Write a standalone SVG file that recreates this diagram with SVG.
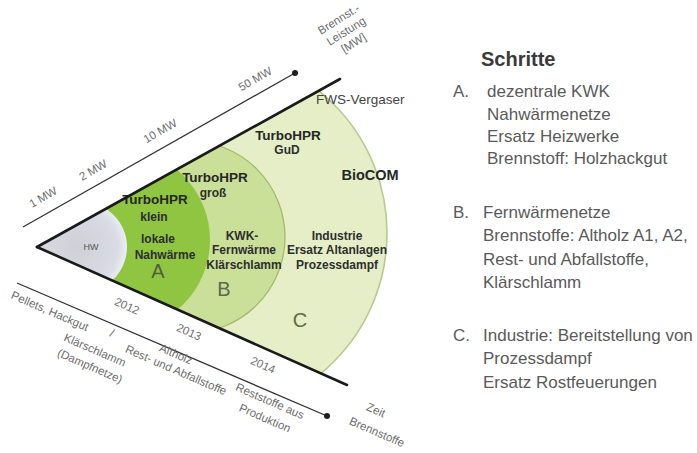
<svg xmlns="http://www.w3.org/2000/svg" width="697" height="453" viewBox="0 0 697 453">
  <defs>
    <clipPath id="wedge">
      <polygon points="37,247 420,35 420,417"/>
    </clipPath>
    <radialGradient id="grayFill" cx="0.45" cy="0.5" r="0.55">
      <stop offset="0" stop-color="#cfd0d6"/>
      <stop offset="0.8" stop-color="#d9dbe5"/>
      <stop offset="1" stop-color="#eceef4"/>
    </radialGradient>
    <marker id="dot" viewBox="0 0 10 10" refX="5" refY="5" markerWidth="6" markerHeight="6" markerUnits="userSpaceOnUse">
      <circle cx="5" cy="5" r="5" fill="#1e1e1e"/>
    </marker>
    <style>
      text { font-family: "Liberation Sans", Arial, sans-serif; }
      .lbl { font-size: 12px; font-weight: bold; fill: #2e2e2e; text-anchor: middle; }
      .hpr { font-size: 13.5px; font-weight: bold; fill: #262626; text-anchor: middle; }
      .reg { font-size: 20px; fill: #5b6a48; text-anchor: middle; }
      .ax { font-size: 11.5px; fill: #6e6e6e; text-anchor: middle; }
      .leg { font-size: 17px; fill: #5a5a5a; }
      .head { font-size: 20px; font-weight: bold; fill: #3a3a3a; }
      .edge { stroke: #1a1a1a; stroke-width: 2.6; fill: none; stroke-linecap: round; }
      .axis { stroke: #333; stroke-width: 1.3; fill: none; marker-end: url(#dot); }
    </style>
  </defs>

  <rect width="697" height="453" fill="#ffffff"/>

  <!-- stage areas, clipped to the wedge -->
  <g clip-path="url(#wedge)">
    <g id="node-C">
      <circle cx="205" cy="233" r="182" fill="#e5eec6" stroke="#b7ca8e" stroke-width="1.6"/>
    </g>
    <g id="node-B">
      <circle cx="189" cy="237" r="96" fill="#cadf98" stroke="#a2bb6c" stroke-width="1.3"/>
    </g>
    <g id="node-A">
      <circle cx="119" cy="240" r="91" fill="#8fc541"/>
    </g>
    <g id="node-HW">
      <circle cx="82" cy="247" r="45" fill="url(#grayFill)"/>
    </g>
  </g>

  <!-- stage texts -->
  <g id="labels-HW">
    <text x="91" y="250" style="font-size:9px; fill:#555; text-anchor:middle">HW</text>
  </g>
  <g id="labels-A">
    <text class="hpr" x="155" y="204">TurboHPR</text>
    <text class="lbl" x="154" y="221">klein</text>
    <text class="lbl" x="158" y="243">lokale</text>
    <text class="lbl" x="165" y="259">Nahwärme</text>
    <text class="reg" x="158" y="278" style="fill:#4f5f3a">A</text>
  </g>
  <g id="labels-B">
    <text class="hpr" x="215" y="182">TurboHPR</text>
    <text class="lbl" x="213" y="197">groß</text>
    <text class="lbl" x="242" y="240">KWK-</text>
    <text class="lbl" x="244" y="254">Fernwärme</text>
    <text class="lbl" x="244" y="269">Klärschlamm</text>
    <text class="reg" x="224" y="296">B</text>
  </g>
  <g id="labels-C">
    <text class="hpr" x="288" y="140">TurboHPR</text>
    <text class="lbl" x="287" y="154">GuD</text>
    <text class="hpr" x="370" y="180" style="font-size:14.5px">BioCOM</text>
    <text class="lbl" x="337" y="240">Industrie</text>
    <text class="lbl" x="337" y="254">Ersatz Altanlagen</text>
    <text class="lbl" x="337" y="269">Prozessdampf</text>
    <text class="reg" x="300" y="327">C</text>
    <text x="316" y="104" style="font-size:13.5px; fill:#444">FWS-Vergaser</text>
  </g>

  <!-- wedge edges and axes -->
  <g id="connectors">
    <line class="edge" x1="37" y1="247" x2="340" y2="79"/>
    <line class="edge" x1="37" y1="247" x2="347" y2="385"/>
    <line class="axis" x1="23" y1="227" x2="295" y2="73"/>
    <line class="axis" x1="17" y1="283" x2="327" y2="416"/>
  </g>

  <!-- power axis labels -->
  <g id="axis-power">
    <text class="ax" transform="translate(43,197) rotate(-29.5)" y="4">1 MW</text>
    <text class="ax" transform="translate(93,170) rotate(-29.5)" y="4">2 MW</text>
    <text class="ax" transform="translate(160,131) rotate(-29.5)" y="4">10 MW</text>
    <text class="ax" transform="translate(255,79) rotate(-29.5)" y="4">50 MW</text>
    <g transform="translate(346,31) rotate(-32)">
      <text class="ax" y="-10">Brennst.-</text>
      <text class="ax" y="4">Leistung</text>
      <text class="ax" y="18">[MW]</text>
    </g>
  </g>

  <!-- time / fuel axis labels -->
  <g id="axis-time">
    <text class="ax" transform="translate(127,306) rotate(23.5)" y="4">2012</text>
    <text class="ax" transform="translate(189,332) rotate(23.5)" y="4">2013</text>
    <text class="ax" transform="translate(263,365) rotate(23.5)" y="4">2014</text>
    <text class="ax" transform="translate(50,311) rotate(23.5)" y="4">Pellets, Hackgut</text>
    <text class="ax" transform="translate(112,333) rotate(23.5)" y="4">/</text>
    <text class="ax" transform="translate(95,350) rotate(23.5)" y="4">Klärschlamm</text>
    <text class="ax" transform="translate(90,366) rotate(23.5)" y="4">(Dampfnetze)</text>
    <text class="ax" transform="translate(176,354) rotate(23.5)" y="4">Altholz</text>
    <text class="ax" transform="translate(176,370) rotate(23.5)" y="4">Rest- und Abfallstoffe</text>
    <text class="ax" transform="translate(270,401) rotate(23.5)" y="4">Reststoffe aus</text>
    <text class="ax" transform="translate(265,418) rotate(23.5)" y="4">Produktion</text>
    <text class="ax" transform="translate(376,410) rotate(23.5)" y="4">Zeit</text>
    <text class="ax" transform="translate(377,432) rotate(23.5)" y="4">Brennstoffe</text>
  </g>

  <!-- legend -->
  <g id="legend">
    <text class="head" x="481" y="66">Schritte</text>
    <text class="leg" x="453" y="97">A.</text>
    <text class="leg" x="487" y="97">dezentrale KWK</text>
    <text class="leg" x="487" y="120">Nahwärmenetze</text>
    <text class="leg" x="487" y="142">Ersatz Heizwerke</text>
    <text class="leg" x="487" y="164">Brennstoff: Holzhackgut</text>

    <text class="leg" x="453" y="218">B.</text>
    <text class="leg" x="483" y="218">Fernwärmenetze</text>
    <text class="leg" x="483" y="241">Brennstoffe: Altholz A1, A2,</text>
    <text class="leg" x="483" y="265">Rest- und Abfallstoffe,</text>
    <text class="leg" x="483" y="288">Klärschlamm</text>

    <text class="leg" x="453" y="341">C.</text>
    <text class="leg" x="483" y="341">Industrie: Bereitstellung von</text>
    <text class="leg" x="483" y="364">Prozessdampf</text>
    <text class="leg" x="483" y="388">Ersatz Rostfeuerungen</text>
  </g>
</svg>
